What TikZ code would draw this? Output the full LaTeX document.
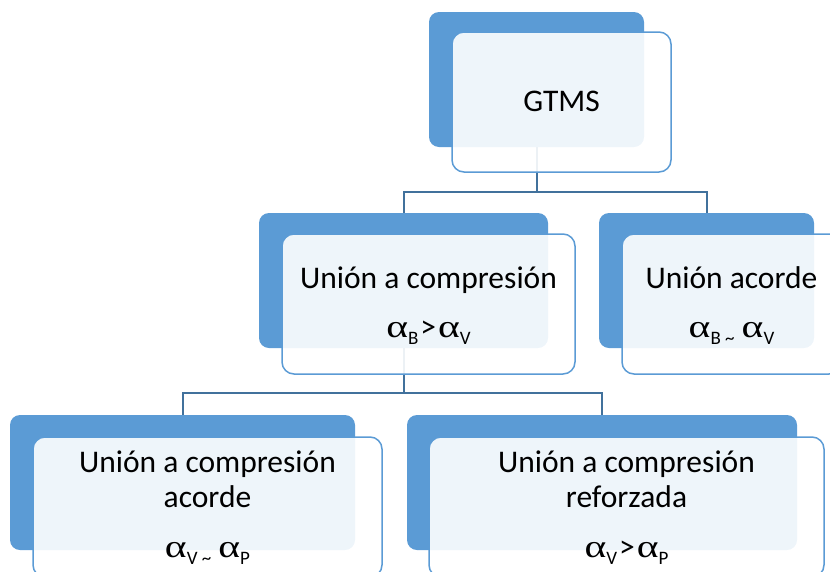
\documentclass[tikz,border=0pt]{standalone}
\usepackage{graphicx}
\usepackage{fontspec}
\setmainfont{Carlito}
\newfontfamily\grk{Liberation Serif}
\newcommand\al{\scalebox{1.3}[1.0]{\fontsize{32}{32}\selectfont\grk α}}
\newcommand\subx[1]{\raisebox{-7pt}{\fontsize{19}{19}\selectfont #1}}
\newcommand\tld{\char"007E}
\newcommand\gtx{\hspace{2pt}>\hspace{2pt}}
\definecolor{darkbox}{HTML}{5B9BD5}
\definecolor{lightedge}{HTML}{5B9BD5}
\definecolor{conn}{HTML}{41719C}
\begin{document}
\begin{tikzpicture}[x=1pt,y=-1pt,
  darkbox/.style={fill=darkbox, draw=none, rounded corners=10pt, inner sep=0pt},
  lightbox/.style={fill=white, fill opacity=0.9, draw=lightedge, draw opacity=1, line width=1.5pt, rounded corners=12pt, inner sep=0pt},
  connector/.style={draw=conn, line width=2pt},
  lbl/.style={anchor=base, inner sep=0pt, font=\fontsize{31.5}{35}\selectfont, text=black}]
\useasboundingbox (0,0) rectangle (830,571);
% junction points
\coordinate (j1) at (536.5,192);
\coordinate (j2) at (403.5,393);
% dark boxes
\node[darkbox, minimum width=215pt, minimum height=135pt] (gD) at (536.5,79.5) {};
\node[darkbox, minimum width=289pt, minimum height=135pt] (cD) at (403.5,280.5) {};
\node[darkbox, minimum width=215pt, minimum height=135pt] (aD) at (706.5,280.5) {};
\node[darkbox, minimum width=345pt, minimum height=135pt] (lD) at (182.5,482.5) {};
\node[darkbox, minimum width=390pt, minimum height=135pt] (rD) at (602,482.5) {};
% connectors
\draw[connector] (gD.south) -- (j1);
\draw[connector] (cD.north) |- (j1) -| (aD.north);
\draw[connector] (cD.south) -- (j2);
\draw[connector] (lD.north) |- (j2) -| (rD.north);
% light boxes
\node[lightbox, minimum width=219pt, minimum height=140pt] (gL) at (561.5,102) {};
\node[lightbox, minimum width=293pt, minimum height=140pt] (cL) at (428.5,304) {};
\node[lightbox, minimum width=219pt, minimum height=140pt] (aL) at (731.5,304) {};
\node[lightbox, minimum width=349pt, minimum height=140pt] (lL) at (207.5,507) {};
\node[lightbox, minimum width=395pt, minimum height=140pt] (rL) at (626.5,507) {};
% texts
\node[lbl] (gT) at (561.5,111) {GTMS};
\node[lbl] (cT1) at (428.5,288) {Unión a compresión};
\node[lbl] (cT2) at (428.5,337) {\al\subx{B}\gtx\al\subx{V}};
\node[lbl] (aT1) at (731.5,288) {Unión acorde};
\node[lbl] (aT2) at (731.5,337) {\al\subx{B \tld} \al\subx{V}};
\node[lbl] (lT1) at (207.5,472) {Unión a compresión};
\node[lbl] (lT2) at (207.5,507) {acorde};
\node[lbl] (lT3) at (207.5,557) {\al\subx{V \tld} \al\subx{P}};
\node[lbl] (rT1) at (626.5,472) {Unión a compresión};
\node[lbl] (rT2) at (626.5,507) {reforzada};
\node[lbl] (rT3) at (626.5,557) {\al\subx{V}\gtx\al\subx{P}};
\end{tikzpicture}
\end{document}
